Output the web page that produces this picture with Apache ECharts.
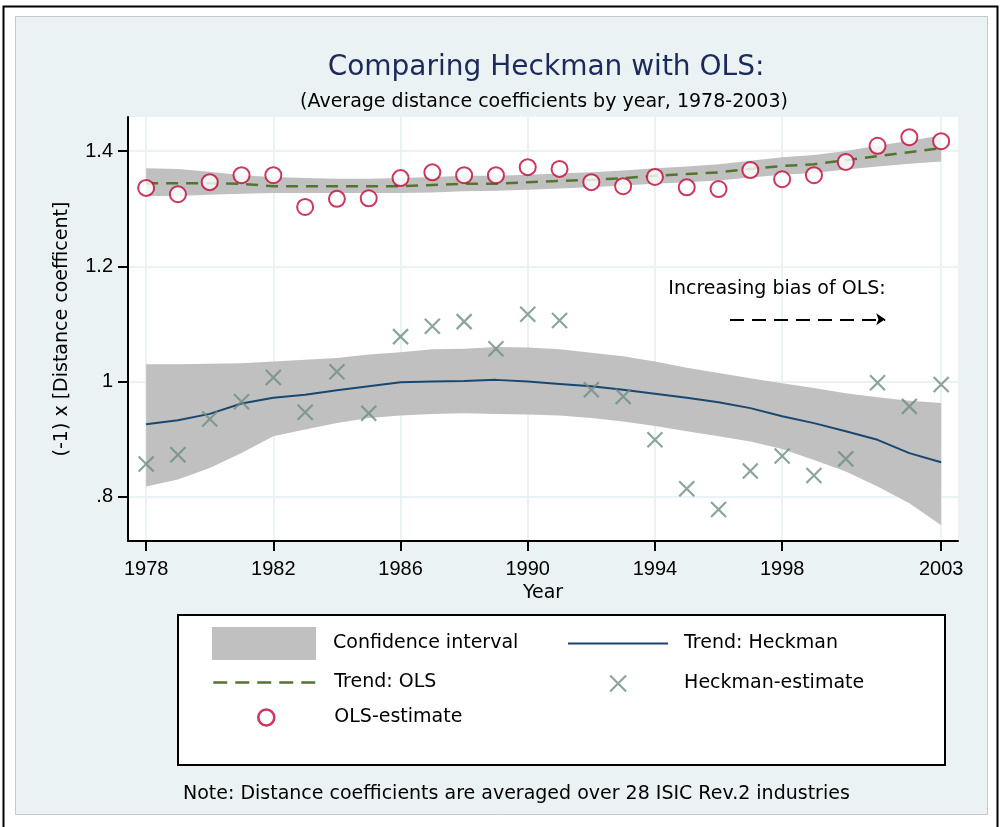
<!DOCTYPE html>
<html>
<head>
<meta charset="utf-8">
<script src="https://cdn.jsdelivr.net/npm/echarts@6/dist/echarts.min.js"></script>
<style>
  html, body { margin: 0; padding: 0; background: #fff; }
  #chart { width: 1001px; height: 827px; }
</style>
</head>
<body>
<div id="chart"></div>
<script>
// years on the x axis
var years = [1978, 1979, 1980, 1981, 1982, 1983, 1984, 1985, 1986, 1987, 1988, 1989, 1990,
             1991, 1992, 1993, 1994, 1995, 1996, 1997, 1998, 1999, 2000, 2001, 2002, 2003];

// OLS estimates (red circles)
var olsEstimate = [1.336, 1.325, 1.346, 1.358, 1.358, 1.303, 1.317, 1.318, 1.353, 1.363, 1.358, 1.358, 1.372,
                   1.369, 1.346, 1.339, 1.355, 1.337, 1.334, 1.367, 1.351, 1.358, 1.381, 1.409, 1.424, 1.417];
// OLS trend (green dashed) and its band
var olsTrend = [1.344, 1.344, 1.344, 1.343, 1.339, 1.339, 1.339, 1.339, 1.339, 1.341, 1.343, 1.343, 1.346,
                1.348, 1.350, 1.353, 1.357, 1.360, 1.363, 1.369, 1.374, 1.377, 1.384, 1.391, 1.398, 1.405];
var olsLower = [1.322, 1.322, 1.324, 1.326, 1.327, 1.327, 1.327, 1.327, 1.327, 1.328, 1.330, 1.331, 1.333,
                1.335, 1.337, 1.340, 1.343, 1.346, 1.349, 1.354, 1.359, 1.362, 1.368, 1.373, 1.378, 1.382];
var olsUpper = [1.370, 1.369, 1.364, 1.358, 1.355, 1.353, 1.352, 1.352, 1.353, 1.355, 1.357, 1.357, 1.359,
                1.361, 1.363, 1.366, 1.370, 1.373, 1.377, 1.383, 1.389, 1.393, 1.400, 1.409, 1.418, 1.427];

// Heckman estimates (x marks)
var heckEstimate = [0.857, 0.873, 0.935, 0.965, 1.007, 0.947, 1.017, 0.945, 1.078, 1.096, 1.104, 1.057, 1.117,
                    1.106, 0.986, 0.974, 0.899, 0.814, 0.778, 0.845, 0.871, 0.837, 0.866, 0.998, 0.957, 0.995];
// Heckman trend (navy line) and its band
var heckTrend = [0.926, 0.933, 0.944, 0.962, 0.972, 0.977, 0.985, 0.992, 0.999, 1.000, 1.001, 1.003, 1.000,
                 0.996, 0.992, 0.986, 0.979, 0.972, 0.964, 0.954, 0.940, 0.928, 0.914, 0.899, 0.876, 0.860];
var heckLower = [0.818, 0.830, 0.850, 0.876, 0.905, 0.917, 0.928, 0.937, 0.941, 0.944, 0.945, 0.944, 0.943,
                 0.941, 0.937, 0.931, 0.923, 0.914, 0.905, 0.896, 0.883, 0.864, 0.844, 0.818, 0.789, 0.751];
var heckUpper = [1.030, 1.030, 1.031, 1.032, 1.035, 1.038, 1.041, 1.047, 1.051, 1.056, 1.057, 1.060, 1.059,
                 1.056, 1.050, 1.044, 1.035, 1.024, 1.015, 1.006, 0.997, 0.989, 0.980, 0.973, 0.967, 0.963];

// axis ticks
var xTicks = [1978, 1982, 1986, 1990, 1994, 1998, 2003];
var yTicks = [0.8, 1, 1.2, 1.4];
var yTickLabels = ['.8', '1', '1.2', '1.4'];

var FONT = 'DejaVu Sans';
var BAND = '#c0c0c0';
var NAVY = '#1a476f';
var GREEN = '#55752f';
var TEAL = '#6e8e84';
var RED = '#c10534';
var X_ICON = 'path://M0,0L10,10M10,0L0,10';

function pairs(arr) {
    return years.map(function (yr, i) { return [yr, arr[i]]; });
}
// confidence band: one polygon through the upper edge and back along the lower edge
function band(lo, hi) {
    return {
        name: 'Confidence interval',
        type: 'custom',
        silent: true,
        data: years.map(function (yr, i) { return [yr, lo[i], hi[i]]; }),
        encode: { x: 0, y: [1, 2] },
        itemStyle: { color: BAND },
        z: 2,
        renderItem: function (params, api) {
            if (params.dataIndex !== 0) return null;
            var pts = [];
            for (var i = 0; i < years.length; i++) pts.push(api.coord([years[i], hi[i]]));
            for (var j = years.length - 1; j >= 0; j--) pts.push(api.coord([years[j], lo[j]]));
            return { type: 'polygon', shape: { points: pts }, style: { fill: BAND } };
        }
    };
}

function legendBox(name, left, top, w, h, pad, extra) {
    var item = { name: name };
    for (var k in extra) item[k] = extra[k];
    return {
        data: [item],
        left: left,
        top: top,
        orient: 'horizontal',
        padding: 0,
        itemWidth: w,
        itemHeight: h,
        selectedMode: false,
        textStyle: { fontFamily: FONT, fontSize: 19, color: '#000', padding: [0, 0, 0, pad] }
    };
}

var chart = echarts.init(document.getElementById('chart'), null, { renderer: 'canvas' });

var series = [
    band(heckLower, heckUpper),
    band(olsLower, olsUpper),
    {
        name: 'Trend: Heckman',
        type: 'line',
        data: pairs(heckTrend),
        symbol: 'none',
        itemStyle: { color: NAVY },
        lineStyle: { color: NAVY, width: 2 },
        z: 3,
        // annotation arrow + text
        markLine: {
            silent: true,
            symbol: ['none', 'arrow'],
            symbolSize: 9,
            label: { show: false },
            lineStyle: { color: '#000', width: 2, type: [14, 8] },
            data: [[{ coord: [1996.36, 1.108] }, { coord: [2001.24, 1.108] }]]
        },
        markPoint: {
            silent: true,
            data: [{
                coord: [1994.42, 1.160],
                symbol: 'circle',
                symbolSize: 0,
                label: {
                    show: true, position: 'right', distance: 0,
                    formatter: 'Increasing bias of OLS:',
                    fontFamily: FONT, fontSize: 19, color: '#000'
                }
            }]
        }
    }, {
        name: 'Trend: OLS',
        type: 'line',
        data: pairs(olsTrend),
        symbol: 'none',
        itemStyle: { color: GREEN },
        lineStyle: { color: GREEN, width: 2.5, type: [12, 8] },
        z: 3
    }, {
        name: 'Heckman-estimate',
        type: 'scatter',
        data: pairs(heckEstimate),
        symbol: X_ICON,
        symbolSize: 15,
        itemStyle: { color: 'transparent', borderColor: TEAL, borderWidth: 2.2 },
        z: 4
    }, {
        name: 'OLS-estimate',
        type: 'scatter',
        data: pairs(olsEstimate),
        symbol: 'emptyCircle',
        symbolSize: 16,
        itemStyle: { color: RED, borderWidth: 2.6 },
        z: 4
    }
];

var option = {
    backgroundColor: '#fff',
    animation: false,
    title: [{
        text: 'Comparing Heckman with OLS:',
        left: 546, top: 54, textAlign: 'center', padding: 0,
        textStyle: { fontFamily: FONT, fontSize: 28, fontWeight: 'normal', color: '#1c2a59' }
    }, {
        text: '(Average distance coefficients by year, 1978-2003)',
        left: 544, top: 93, textAlign: 'center', padding: 0,
        textStyle: { fontFamily: FONT, fontSize: 19, fontWeight: 'normal', color: '#000' }
    }, {
        text: 'Note: Distance coefficients are averaged over 28 ISIC Rev.2 industries',
        left: 183, top: 785, padding: 0,
        textStyle: { fontFamily: FONT, fontSize: 19, fontWeight: 'normal', color: '#000' }
    }],
    graphic: [
        // outer frame and light panel
        { type: 'rect', z: -10, shape: { x: 3.5, y: 6.5, width: 994, height: 840 },
          style: { fill: '#fff', stroke: '#000', lineWidth: 2 } },
        { type: 'rect', z: -9, shape: { x: 15.5, y: 16.5, width: 972, height: 798 },
          style: { fill: '#eaf2f3', stroke: '#c8c8c8', lineWidth: 1 } },
        // legend frame
        { type: 'rect', z: 1, shape: { x: 178, y: 615, width: 767, height: 150 },
          style: { fill: '#fff', stroke: '#000', lineWidth: 2 } }
    ],
    legend: [
        legendBox('Confidence interval', 212, 627, 104, 33, 12, { icon: 'rect', itemStyle: { color: BAND } }),
        legendBox('Trend: Heckman', 567, 634, 100, 14, 11,
            { itemStyle: { opacity: 0 }, lineStyle: { color: NAVY, width: 2 } }),
        legendBox('Trend: OLS', 212, 673, 104, 14, 12,
            { itemStyle: { opacity: 0 }, lineStyle: { color: GREEN, width: 2.5, type: [14, 8] } }),
        legendBox('Heckman-estimate', 609, 674, 16, 16, 53,
            { icon: X_ICON, itemStyle: { color: 'transparent', borderColor: TEAL, borderWidth: 2.2 } }),
        legendBox('OLS-estimate', 257, 708, 16, 16, 55,
            { icon: 'circle', itemStyle: { color: '#fff', borderColor: RED, borderWidth: 2.6 } })
    ],
    grid: {
        left: 128, right: 43, top: 117, bottom: 286,
        show: true, backgroundColor: '#fff', borderWidth: 0
    },
    xAxis: {
        type: 'value',
        min: 1977.43, max: 2003.53,
        name: 'Year', nameLocation: 'middle', nameGap: 43,
        nameTextStyle: { fontFamily: FONT, fontSize: 19, color: '#000' },
        axisLine: { lineStyle: { color: '#000', width: 2 } },
        axisTick: { customValues: xTicks, length: 10, lineStyle: { color: '#000', width: 2 } },
        axisLabel: {
            customValues: xTicks, margin: 18,
            fontFamily: 'Liberation Sans', fontSize: 20, color: '#000',
            formatter: function (v) { return String(Math.round(v)); }
        },
        splitLine: { show: true, lineStyle: { color: '#eaf2f3', width: 2 } }
    },
    yAxis: {
        type: 'value',
        min: 0.7235, max: 1.459,
        name: '(-1) x [Distance coefficent]', nameLocation: 'middle', nameGap: 56,
        nameTextStyle: { fontFamily: FONT, fontSize: 19, color: '#000' },
        axisLine: { show: true, lineStyle: { color: '#000', width: 2 } },
        axisTick: { show: true, customValues: yTicks, length: 10, lineStyle: { color: '#000', width: 2 } },
        axisLabel: {
            customValues: yTicks, margin: 15,
            fontFamily: 'Liberation Sans', fontSize: 20, color: '#000',
            formatter: function (v) {
                for (var i = 0; i < yTicks.length; i++) {
                    if (Math.abs(yTicks[i] - v) < 1e-6) return yTickLabels[i];
                }
                return '';
            }
        },
        splitLine: { show: true, lineStyle: { color: '#eaf2f3', width: 2 } }
    },
    series: series
};

chart.setOption(option);
</script>
</body>
</html>
